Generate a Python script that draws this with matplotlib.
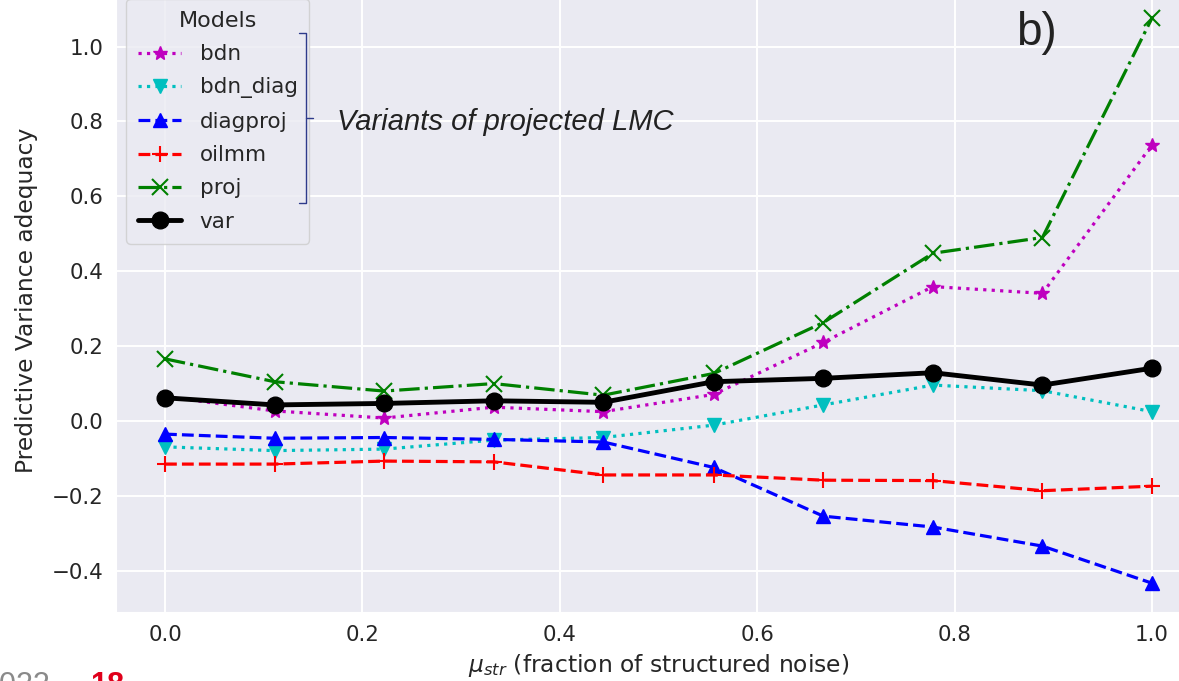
import numpy as np
import matplotlib
matplotlib.use('Agg')
import matplotlib.pyplot as plt
import seaborn as sns
from matplotlib.lines import Line2D

# fraction of structured noise
mu_str = [0.0, 0.111, 0.222, 0.333, 0.444, 0.556, 0.667, 0.778, 0.889, 1.0]

# predictive variance adequacy per model
bdn = [0.065, 0.027, 0.008, 0.037, 0.025, 0.071, 0.210, 0.359, 0.341, 0.737]
bdn_diag = [-0.069, -0.079, -0.075, -0.051, -0.044, -0.011, 0.043, 0.096, 0.081, 0.025]
diagproj = [-0.035, -0.046, -0.044, -0.049, -0.056, -0.124, -0.254, -0.283, -0.334, -0.433]
oilmm = [-0.115, -0.115, -0.107, -0.109, -0.144, -0.144, -0.158, -0.159, -0.186, -0.174]
proj = [0.166, 0.105, 0.080, 0.100, 0.069, 0.127, 0.263, 0.448, 0.490, 1.076]
var = [0.062, 0.043, 0.047, 0.054, 0.050, 0.105, 0.114, 0.129, 0.096, 0.141]

xticks = [0.0, 0.2, 0.4, 0.6, 0.8, 1.0]
yticks = [-0.4, -0.2, 0.0, 0.2, 0.4, 0.6, 0.8, 1.0]

sns.set_style('darkgrid')
plt.rcParams['font.family'] = ['DejaVu Sans']

W, H = 1179, 681
fig = plt.figure(figsize=(W / 100, H / 100), dpi=100)

def px(x, y):
    # pixel (from top-left) -> figure fraction
    return x / W, (H - y) / H

ax = fig.add_axes([115.65 / W, 68.6 / H, 1085.7 / W, 624.3 / H])

ax.plot(mu_str, bdn, 'm*:', lw=2.3, ms=10, label='bdn')
ax.plot(mu_str, bdn_diag, 'cv:', lw=2.3, ms=10, label='bdn_diag')
ax.plot(mu_str, diagproj, 'b^--', lw=2.3, ms=10, label='diagproj')
ax.plot(mu_str, oilmm, 'r+--', lw=2.3, ms=11, mew=1.5, label='oilmm')
ax.plot(mu_str, proj, 'gx-.', lw=2.3, ms=11, mew=1.5, label='proj')
ax.plot(mu_str, var, 'ko-', lw=3.5, ms=12, label='var')

ax.set_xlim(-0.05, 1.05)
ax.set_ylim(-0.511, 1.156)
ax.set_xticks(xticks)
ax.set_yticks(yticks)
ax.tick_params(labelsize=15.4, length=0, pad=9)
ax.grid(color='white', lw=1.4)
ax.set_xlabel(r'$\mu_{str}$ (fraction of structured noise)', fontsize=16.8, labelpad=5)
ax.set_ylabel('Predictive Variance adequacy', fontsize=16.8, labelpad=10)

ax.legend(title='Models', loc='upper left', fontsize=15.5, title_fontsize=16,
          borderaxespad=0.5, borderpad=0.55, labelspacing=0.62,
          handletextpad=0.85)

# bracket grouping the projected variants
bc = '#2E3B8B'
xs, ys = zip(*[px(299, 33), px(306, 33), px(306, 203), px(299, 203)])
fig.add_artist(Line2D(xs, ys, color=bc, lw=1.0))
xs, ys = zip(*[px(306, 118), px(313, 118)])
fig.add_artist(Line2D(xs, ys, color=bc, lw=1.0))
fig.text(*px(337, 122), 'Variants of projected LMC', family='Liberation Sans',
         style='italic', fontsize=21, color='#222222', va='center', ha='left')

fig.text(*px(1016, 45), 'b)', family='Liberation Sans', fontsize=33,
         color='#222222', va='baseline', ha='left')

# slide footer
fig.text(*px(-17, 694), '2022', family='Liberation Sans', fontsize=22,
         color='#8a8a8a', va='baseline', ha='left')
fig.text(*px(90, 694), '18', family='Liberation Sans', fontsize=22,
         weight='bold', color='#e0001b', va='baseline', ha='left')

fig.savefig('out.png', dpi=100)
